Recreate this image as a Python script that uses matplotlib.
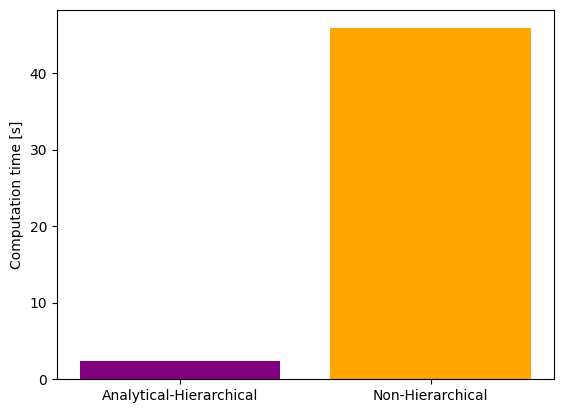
import matplotlib
matplotlib.use("Agg")
import matplotlib.pyplot as plt

# Datos del gráfico
methods = ["Analytical-Hierarchical", "Non-Hierarchical"]
times = [2.35, 46.0]
colors = ["purple", "orange"]

fig, ax = plt.subplots(figsize=(5.62, 4.13), dpi=100)
fig.subplots_adjust(left=0.1014, right=0.985, top=0.9758, bottom=0.0816)

ax.bar(methods, times, color=colors)
ax.set_ylabel("Computation time [s]")

fig.savefig("out.png", dpi=100)
